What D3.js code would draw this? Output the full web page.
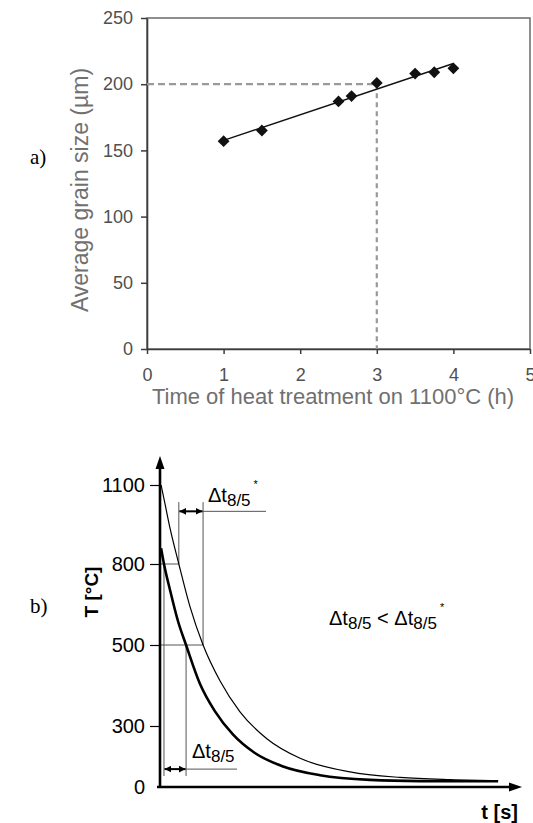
<!DOCTYPE html>
<html lang="en">
<head>
<meta charset="UTF-8">
<title>Grain size and cooling curves</title>
<style>
  body { margin: 0; background: #fff; }
  svg { display: block; }
</style>
</head>
<body>
<script src="https://cdn.jsdelivr.net/npm/d3@7/dist/d3.min.js"></script>
<script>
// ---- a) grain size vs. heat treatment time ----
var hours     = [1, 1.5, 2.5, 2.67, 3, 3.5, 3.75, 4];
var grainSize = [157, 165, 187, 191, 201, 208, 209, 212];
var xTicksA   = [0, 1, 2, 3, 4, 5];
var yTicksA   = [0, 50, 100, 150, 200, 250];
var guideA    = [3, 200];   // dashed read-off point

// ---- b) cooling curves (schematic) ----
var tThin  = [0.3, 1.4, 2.8, 5.2, 8.3, 11.9, 16.6, 22.1, 29.6, 38.7, 52.5, 66.3, 80.1, 93.4];
var TThin  = [1100, 1027, 934, 800, 641, 500, 411, 335, 236, 141, 74, 47, 36, 31];
var tThick = [0.3, 1.1, 2.8, 5.0, 7.2, 11.0, 15.2, 20.2, 26.2, 34.0, 44.2, 58.0, 71.8, 93.4];
var TThick = [860, 800, 702, 587, 500, 405, 336, 257, 167, 101, 58, 35, 29, 28];
var yTicksB    = [0, 300, 500, 800, 1100];
var levels     = [800, 500];
var thinCross  = [5.2, 11.9];   // t at 800 and 500, slower cooling
var thickCross = [1.1, 7.2];    // t at 800 and 500, faster cooling

var W = 533, H = 823;
var svg = d3.select("body").append("svg")
    .attr("width", W).attr("height", H)
    .style("background", "#fff");

var sans = "'Liberation Sans', Arial, Helvetica, sans-serif";
var serif = "'Liberation Serif', 'Times New Roman', serif";

// ================= chart a =================
var xA = d3.scaleLinear().domain([0, 5]).range([147, 530]);
var yA = d3.scaleLinear().domain([0, 250]).range([349, 18]);

var gA = svg.append("g");

// frame (top/right)
gA.append("rect")
    .attr("x", xA(0)).attr("y", yA(250))
    .attr("width", xA(5) - xA(0)).attr("height", yA(0) - yA(250))
    .attr("fill", "none").attr("stroke", "#6a6a6a").attr("stroke-width", 1.5);

var axA_y = gA.append("g")
    .attr("transform", "translate(" + xA(0) + ",0)")
    .call(d3.axisLeft(yA).tickValues(yTicksA).tickSize(6).tickPadding(8).tickSizeOuter(0)
        .tickFormat(d3.format("d")));
var axA_x = gA.append("g")
    .attr("transform", "translate(0," + yA(0) + ")")
    .call(d3.axisBottom(xA).tickValues(xTicksA).tickSize(5).tickPadding(14).tickSizeOuter(0)
        .tickFormat(d3.format("d")));

[axA_y, axA_x].forEach(function(ax) {
    ax.select(".domain").attr("stroke", "#3c3c3c").attr("stroke-width", 1.6);
    ax.selectAll(".tick line").attr("stroke", "#3c3c3c").attr("stroke-width", 1.5);
    ax.selectAll(".tick text")
        .attr("fill", "#505050")
        .attr("font-family", sans)
        .attr("font-size", 18);
});

// dashed guides
gA.append("line")
    .attr("x1", xA(0)).attr("x2", xA(guideA[0]))
    .attr("y1", yA(guideA[1])).attr("y2", yA(guideA[1]))
    .attr("stroke", "#9a9a9a").attr("stroke-width", 2.2)
    .attr("stroke-dasharray", "7,4");
gA.append("line")
    .attr("x1", xA(guideA[0])).attr("x2", xA(guideA[0]))
    .attr("y1", yA(guideA[1])).attr("y2", yA(0))
    .attr("stroke", "#9a9a9a").attr("stroke-width", 2.2)
    .attr("stroke-dasharray", "5,4");

// linear trend line (least squares)
var mx = d3.mean(hours), my = d3.mean(grainSize);
var slope = d3.sum(hours, function(h, i) { return (h - mx) * (grainSize[i] - my); }) /
            d3.sum(hours, function(h) { return (h - mx) * (h - mx); });
var icpt = my - slope * mx;
var x0 = d3.min(hours), x1 = d3.max(hours);
gA.append("line")
    .attr("x1", xA(x0)).attr("y1", yA(icpt + slope * x0))
    .attr("x2", xA(x1)).attr("y2", yA(icpt + slope * x1))
    .attr("stroke", "#111").attr("stroke-width", 1.4);

// diamond markers
gA.selectAll("path.pt")
    .data(hours)
    .enter()
    .append("path")
    .attr("class", "pt")
    .attr("d", d3.symbol().type(d3.symbolSquare).size(70))
    .attr("transform", function(d, i) {
        return "translate(" + xA(d) + "," + yA(grainSize[i]) + ") rotate(45)";
    })
    .attr("fill", "#111");

// axis titles
gA.append("text")
    .attr("transform", "translate(88,190) rotate(-90)")
    .attr("text-anchor", "middle")
    .attr("font-family", sans).attr("font-size", 23)
    .attr("fill", "#707070")
    .text("Average grain size (\u00b5m)");
gA.append("text")
    .attr("x", 333).attr("y", 404)
    .attr("text-anchor", "middle")
    .attr("font-family", sans).attr("font-size", 22)
    .attr("fill", "#707070")
    .text("Time of heat treatment on 1100\u00b0C (h)");

svg.append("text")
    .attr("x", 30).attr("y", 164)
    .attr("font-family", serif).attr("font-size", 21)
    .text("a)");

// ================= chart b =================
var xB = d3.scaleLinear().domain([0, 100]).range([160, 522]);
var yB = d3.scaleLinear().domain([0, 300, 500, 800, 1100]).range([787, 726, 645, 564, 485]);

var gB = svg.append("g");

// y axis ticks + labels
var axB = gB.append("g")
    .attr("transform", "translate(" + xB(0) + ",0)")
    .call(d3.axisLeft(yB).tickValues(yTicksB).tickSize(10).tickPadding(5).tickFormat(d3.format("d")));
axB.select(".domain").remove();
axB.selectAll(".tick line").attr("stroke", "#000").attr("stroke-width", 1.2);
axB.selectAll(".tick text")
    .attr("fill", "#000").attr("font-family", sans).attr("font-size", 20);
axB.selectAll(".tick").filter(function(d) { return d === 0; }).select("line").remove();

// guide lines at 800 and 500 (to the slower curve)
var guide = "#555";
levels.forEach(function(T, i) {
    gB.append("line")
        .attr("x1", xB(0)).attr("x2", xB(thinCross[i]))
        .attr("y1", yB(T)).attr("y2", yB(T))
        .attr("stroke", guide).attr("stroke-width", 1);
});

// vertical markers, slower curve (top)
var topTop = 1035, topArrow = 1000;
thinCross.forEach(function(t, i) {
    gB.append("line")
        .attr("x1", xB(t)).attr("x2", xB(t))
        .attr("y1", yB(topTop)).attr("y2", yB(levels[i]))
        .attr("stroke", guide).attr("stroke-width", 1);
});
// vertical markers, faster curve (bottom)
var botBottom = 54, botArrow = 88;
thickCross.forEach(function(t, i) {
    gB.append("line")
        .attr("x1", xB(t)).attr("x2", xB(t))
        .attr("y1", yB(levels[i])).attr("y2", yB(botBottom))
        .attr("stroke", guide).attr("stroke-width", 1);
});

// leader lines for labels
gB.append("line")
    .attr("x1", xB(thinCross[1])).attr("x2", 266)
    .attr("y1", yB(topArrow)).attr("y2", yB(topArrow))
    .attr("stroke", guide).attr("stroke-width", 1);
gB.append("line")
    .attr("x1", xB(thickCross[1])).attr("x2", 237)
    .attr("y1", yB(botArrow)).attr("y2", yB(botArrow))
    .attr("stroke", guide).attr("stroke-width", 1);

// double arrows
var defs = svg.append("defs");
defs.append("marker")
    .attr("id", "ah").attr("viewBox", "0 0 10 10")
    .attr("refX", 10).attr("refY", 5)
    .attr("markerWidth", 7).attr("markerHeight", 7)
    .attr("markerUnits", "userSpaceOnUse")
    .attr("orient", "auto-start-reverse")
    .append("path").attr("d", "M0,0 L10,5 L0,10 Z").attr("fill", "#000");

function dblArrow(t1, t2, T) {
    gB.append("line")
        .attr("x1", xB(t1) + 0.5).attr("x2", xB(t2) - 0.5)
        .attr("y1", yB(T)).attr("y2", yB(T))
        .attr("stroke", "#000").attr("stroke-width", 2)
        .attr("marker-start", "url(#ah)").attr("marker-end", "url(#ah)");
}
dblArrow(thinCross[0], thinCross[1], topArrow);
dblArrow(thickCross[0], thickCross[1], botArrow);

// cooling curves
var line = d3.line().curve(d3.curveMonotoneX)
    .x(function(d) { return xB(d[0]); })
    .y(function(d) { return yB(d[1]); });
gB.append("path")
    .datum(d3.zip(tThin, TThin))
    .attr("d", line).attr("fill", "none")
    .attr("stroke", "#000").attr("stroke-width", 1.2);
gB.append("path")
    .datum(d3.zip(tThick, TThick))
    .attr("d", line).attr("fill", "none")
    .attr("stroke", "#000").attr("stroke-width", 2.6);

// axes with arrow heads
gB.append("line")
    .attr("x1", xB(0)).attr("x2", xB(0))
    .attr("y1", yB(0) + 1).attr("y2", 466)
    .attr("stroke", "#000").attr("stroke-width", 2.6);
gB.append("path")
    .attr("d", "M" + xB(0) + ",456 l-4.5,13 l9,0 Z").attr("fill", "#000");
gB.append("line")
    .attr("x1", 157).attr("x2", 512)
    .attr("y1", yB(0)).attr("y2", yB(0))
    .attr("stroke", "#000").attr("stroke-width", 2.6);
gB.append("path")
    .attr("d", "M522," + yB(0) + " l-13,-4.5 l0,9 Z").attr("fill", "#000");

// labels
function dtLabel(g, x, y, star) {
    var t = g.append("text").attr("x", x).attr("y", y)
        .attr("font-family", sans).attr("font-size", 20).attr("fill", "#000");
    t.append("tspan").text("\u0394t");
    t.append("tspan").attr("font-size", 17).attr("dy", 4).text("8/5");
    if (star) t.append("tspan").attr("font-size", 11).attr("dy", -18).attr("dx", 3).text("*");
    return t;
}
dtLabel(gB, 208, 502, true);
dtLabel(gB, 192, 758, false);

var cmp = gB.append("text").attr("x", 329).attr("y", 625)
    .attr("font-family", sans).attr("font-size", 20).attr("fill", "#000");
cmp.append("tspan").text("\u0394t");
cmp.append("tspan").attr("font-size", 17).attr("dy", 4).text("8/5");
cmp.append("tspan").attr("dy", -4).text(" < \u0394t");
cmp.append("tspan").attr("font-size", 17).attr("dy", 4).text("8/5");
cmp.append("tspan").attr("font-size", 11).attr("dy", -18).attr("dx", 3).text("*");

gB.append("text")
    .attr("transform", "translate(98,592) rotate(-90)")
    .attr("text-anchor", "middle")
    .attr("font-family", sans).attr("font-size", 19).attr("font-weight", "bold")
    .text("T [\u00b0C]");
gB.append("text")
    .attr("x", 518).attr("y", 819)
    .attr("text-anchor", "end")
    .attr("font-family", sans).attr("font-size", 20).attr("font-weight", "bold")
    .text("t [s]");

svg.append("text")
    .attr("x", 30).attr("y", 613)
    .attr("font-family", serif).attr("font-size", 21)
    .text("b)");
</script>
</body>
</html>
